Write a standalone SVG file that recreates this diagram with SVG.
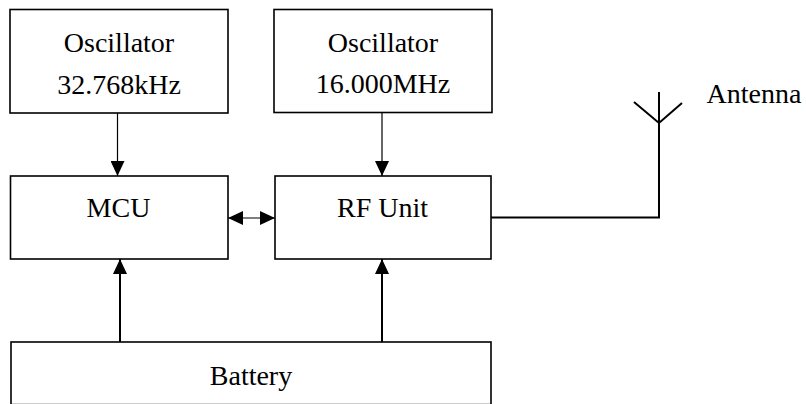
<svg xmlns="http://www.w3.org/2000/svg" width="806" height="404" viewBox="0 0 806 404">
<style>
.box{fill:#fff;stroke:#000;stroke-width:1.6}
.t{font-family:"Liberation Serif","Times New Roman",serif;font-size:28px;fill:#000;text-anchor:middle}
.c{fill:none;stroke:#000;stroke-width:1.2}
.c2{fill:none;stroke:#000;stroke-width:2}
</style>
<defs>
<marker id="ah" viewBox="0 0 15 14" refX="15" refY="7" markerWidth="15" markerHeight="14" orient="auto-start-reverse" markerUnits="userSpaceOnUse">
<path d="M0,0 L15,7 L0,14 z" fill="#000"/>
</marker>
</defs>
<g id="osc1">
<rect class="box" x="10" y="9.5" width="218" height="103.5"/>
<text class="t" x="119" y="52">Oscillator</text>
<text class="t" x="119" y="94">32.768kHz</text>
</g>
<g id="osc2">
<rect class="box" x="274" y="9.5" width="218" height="103"/>
<text class="t" x="383" y="52">Oscillator</text>
<text class="t" x="383" y="93">16.000MHz</text>
</g>
<g id="mcu">
<rect class="box" x="10.5" y="176" width="217.5" height="83"/>
<text class="t" x="118.5" y="217">MCU</text>
</g>
<g id="rf">
<rect class="box" x="275" y="176" width="216" height="83"/>
<text class="t" x="382.5" y="217">RF Unit</text>
</g>
<g id="battery">
<rect class="box" x="11" y="342" width="480" height="62.6"/>
<text class="t" x="251" y="385">Battery</text>
</g>
<g id="antenna">
<text class="t" x="754" y="103">Antenna</text>
</g>
<g id="connectors">
<line class="c" x1="117.5" y1="113" x2="117.5" y2="176" marker-end="url(#ah)"/>
<line class="c" x1="382" y1="112.5" x2="382" y2="176" marker-end="url(#ah)"/>
<line class="c" x1="228" y1="218" x2="275" y2="218" marker-start="url(#ah)" marker-end="url(#ah)"/>
<line class="c2" x1="120" y1="342" x2="120" y2="259" marker-end="url(#ah)"/>
<line class="c2" x1="382" y1="342" x2="382" y2="259" marker-end="url(#ah)"/>
<polyline class="c2" points="491,217.5 659,217.5 659,92"/>
<polyline class="c2" points="634,102 659,123 682,103"/>
</g>
</svg>
